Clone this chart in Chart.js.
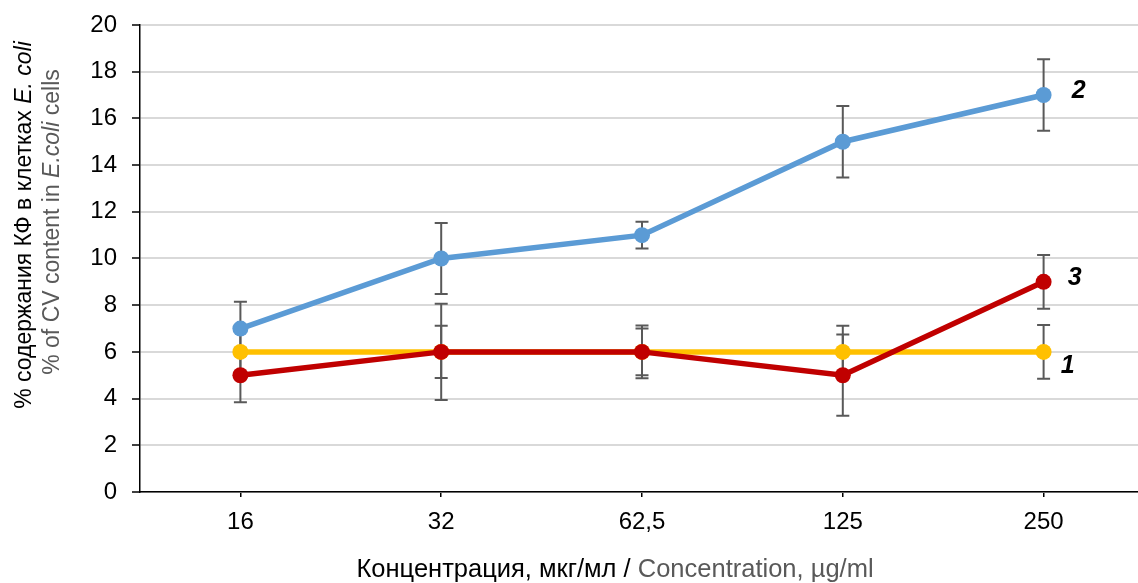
<!DOCTYPE html>
<html>
<head>
<meta charset="utf-8">
<script src="https://cdn.jsdelivr.net/npm/chart.js@4"></script>
<style>
  html, body { margin: 0; padding: 0; background: #fff; overflow: hidden; }
  #wrap { width: 1138px; height: 583px; overflow: hidden; }
</style>
</head>
<body>
<div id="wrap"><canvas id="chart" width="1152" height="583"></canvas></div>
<script>
/* ---------- Data ---------- */
const concentrations = ["16", "32", "62,5", "125", "250"];
const yTicks = [0, 2, 4, 6, 8, 10, 12, 14, 16, 18, 20];

const series1 = [6, 6, 6, 6, 6];          // yellow
const series1Err = [1.15, 1.12, 1.13, 1.12, 1.15];
const series2 = [7, 10, 11, 15, 17];      // blue
const series2Err = [1.15, 1.52, 0.57, 1.53, 1.53];
const series3 = [5, 6, 6, 5, 9];          // red
const series3Err = [1.16, 2.06, 1.0, 1.74, 1.15];
const seriesNames = ["1", "2", "3"];

const FONT = "'Liberation Sans', Arial, sans-serif";

/* ---------- Plugins ---------- */
const errorBars = {
  id: "errorBars",
  beforeDatasetsDraw(c) {
    const ctx = c.ctx, x = c.scales.x, y = c.scales.y;
    ctx.save();
    ctx.strokeStyle = "#595959";
    ctx.lineWidth = 2;
    c.data.datasets.forEach(ds => {
      ds.data.forEach((v, i) => {
        const e = ds.err[i];
        const px = x.getPixelForValue(i);
        const top = y.getPixelForValue(v + e);
        const bot = y.getPixelForValue(v - e);
        ctx.beginPath();
        ctx.moveTo(px, top); ctx.lineTo(px, bot);
        ctx.moveTo(px - 6.5, top); ctx.lineTo(px + 6.5, top);
        ctx.moveTo(px - 6.5, bot); ctx.lineTo(px + 6.5, bot);
        ctx.stroke();
      });
    });
    ctx.restore();
  }
};

const seriesLabels = {
  id: "seriesLabels",
  afterDatasetsDraw(c) {
    const ctx = c.ctx, x = c.scales.x, y = c.scales.y;
    const offs = [[24, 14], [35, -4], [31, -4]];
    ctx.save();
    ctx.font = "italic bold 25px " + FONT;
    ctx.fillStyle = "#000";
    ctx.textAlign = "center";
    ctx.textBaseline = "middle";
    c.data.datasets.forEach((ds, k) => {
      const last = ds.data.length - 1;
      ctx.fillText(ds.label,
        x.getPixelForValue(last) + offs[k][0],
        y.getPixelForValue(ds.data[last]) + offs[k][1]);
    });
    ctx.restore();
  }
};

function drawMixed(ctx, parts, cx, cy) {
  let w = 0;
  parts.forEach(p => { ctx.font = p.font; w += ctx.measureText(p.t).width; });
  let xx = cx - w / 2;
  parts.forEach(p => {
    ctx.font = p.font;
    ctx.fillStyle = p.color;
    ctx.fillText(p.t, xx, cy);
    xx += ctx.measureText(p.t).width;
  });
}

const axisTitles = {
  id: "axisTitles",
  afterDraw(c) {
    const ctx = c.ctx;
    const n = "25.5px " + FONT;
    const yn = "23px " + FONT, yit = "italic 23px " + FONT;
    const k = "#000", g = "#595959";
    ctx.save();
    ctx.textAlign = "left";
    ctx.textBaseline = "middle";
    drawMixed(ctx, [
      { t: "Концентрация, мкг/мл / ", font: n, color: k },
      { t: "Concentration, µg/ml", font: n, color: g }
    ], 615, 570);

    ctx.save();
    ctx.translate(25, 225);
    ctx.rotate(-Math.PI / 2);
    drawMixed(ctx, [
      { t: "% содержания КФ в клетках ", font: yn, color: k },
      { t: "E. coli", font: yit, color: k }
    ], 0, 0);
    ctx.restore();
    ctx.save();
    ctx.translate(53, 222);
    ctx.rotate(-Math.PI / 2);
    drawMixed(ctx, [
      { t: "% of CV content in ", font: yn, color: g },
      { t: "E.coli", font: yit, color: g },
      { t: " cells", font: yn, color: g }
    ], 0, 0);
    ctx.restore();
    ctx.restore();
  }
};

/* ---------- Chart ---------- */
function mkSet(label, data, err, color, order) {
  return {
    label, data, err, order,
    borderColor: color,
    backgroundColor: color,
    borderWidth: 5.5,
    pointRadius: 8,
    pointHoverRadius: 8,
    pointBorderWidth: 0,
    tension: 0
  };
}

new Chart(document.getElementById("chart"), {
  type: "line",
  data: {
    labels: concentrations,
    datasets: [
      mkSet(seriesNames[0], series1, series1Err, "#FFC000", 3),
      mkSet(seriesNames[1], series2, series2Err, "#5B9BD5", 2),
      mkSet(seriesNames[2], series3, series3Err, "#C00000", 1)
    ]
  },
  options: {
    responsive: false,
    animation: false,
    devicePixelRatio: 1,
    layout: { padding: { top: 0, right: 2, left: 0, bottom: 0 } },
    plugins: { legend: { display: false }, tooltip: { enabled: false } },
    scales: {
      x: {
        type: "category",
        offset: true,
        grid: { offset: false, drawOnChartArea: false, drawTicks: true, tickLength: 5, color: "#000", lineWidth: 1.5 },
        border: { color: "#000", width: 1.5 },
        ticks: { color: "#000", font: { family: FONT, size: 24 }, padding: 11, maxRotation: 0 },
        afterFit(s) { s.height = 91; }
      },
      y: {
        min: 0, max: 20,
        afterBuildTicks(s) { s.ticks = yTicks.map(v => ({ value: v })); },
        grid: {
          color: "#D9D9D9", lineWidth: 2, tickLength: 8,
          tickColor: "#000", tickWidth: 1.5
        },
        border: { color: "#000", width: 1.5 },
        ticks: { color: "#000", font: { family: FONT, size: 24, lineHeight: 0.83 }, padding: 15 },
        afterFit(s) { s.width = 140; }
      }
    }
  },
  plugins: [errorBars, seriesLabels, axisTitles]
});
</script>
</body>
</html>
